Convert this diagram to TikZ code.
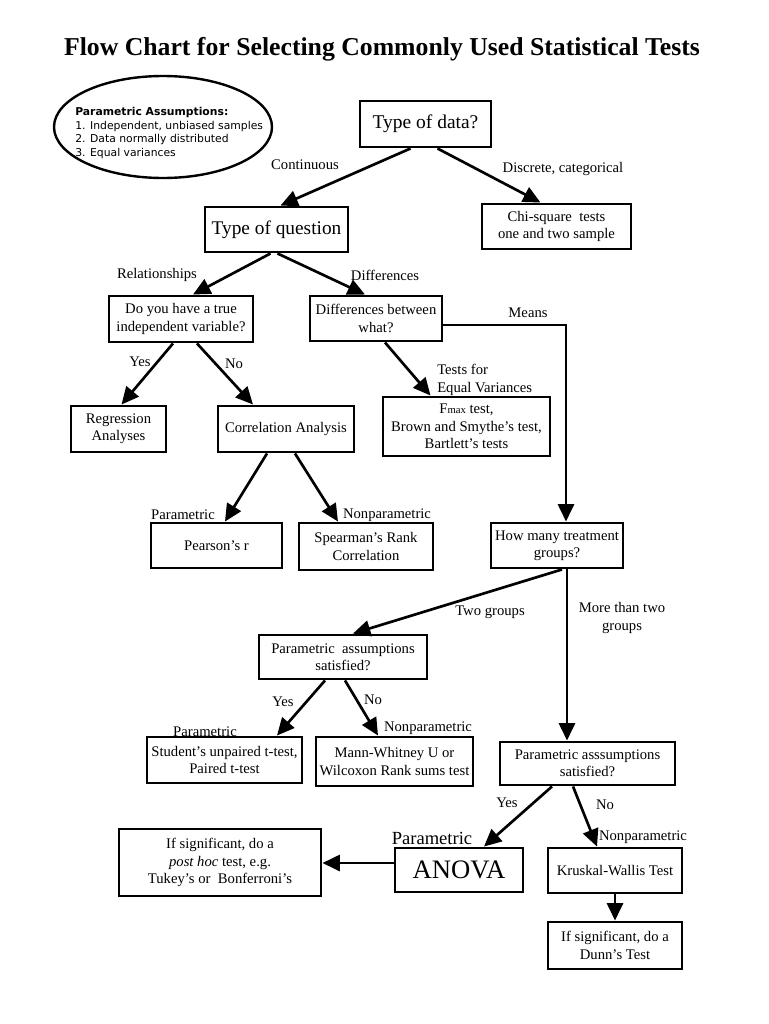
\documentclass[tikz,border=0pt]{standalone}
\usepackage{fontspec}
\setmainfont{Liberation Serif}
\newfontfamily\assumfont{DejaVu Sans}
\usetikzlibrary{arrows.meta, calc, shapes.geometric}

\tikzset{
  flow box/.style={draw, line width=2.2pt, align=center, inner sep=2pt, font=\fontsize{11}{13}\selectfont},
  box wh/.style 2 args={minimum width={#1*0.75pt}, minimum height={#2*0.75pt}},
  branch label/.style={font=\fontsize{11}{13}\selectfont, align=center, inner sep=0pt},
  flow arrow/.style={line width=2pt, -{Triangle[length=13pt, width=12pt]}}
}

\begin{document}
\begin{tikzpicture}[x=0.75pt, y=-0.75pt]
  \useasboundingbox (0,0) rectangle (768,1024);

  \node[font=\fontsize{19.3}{22}\selectfont\bfseries] (title) at (382,49) {Flow Chart for Selecting Commonly Used Statistical Tests};

  % Assumptions ellipse
  \node[draw, ellipse, line width=1.8pt, minimum width=163.5pt, minimum height=76.5pt] (assum) at (163,127) {};
  \node[anchor=west, align=left, inner sep=0pt, font=\assumfont\fontsize{8.1}{10.1}\selectfont] (assumtext) at (75,133)
    {\textbf{Parametric Assumptions:}\\1. Independent, unbiased samples\\2. Data normally distributed\\3. Equal variances};

  % Boxes - top part
  \node[flow box, box wh={131}{46}, font=\fontsize{14.6}{17}\selectfont] (typedata) at (425.5,124) {Type of data?};
  \node[flow box, box wh={149}{45}] (chisq) at (556.5,226.5) {Chi-square~ tests\\one and two sample};
  \node[flow box, box wh={143}{45}, font=\fontsize{14.5}{17}\selectfont] (typeq) at (276.5,229.5) {Type of question};
  \node[flow box, box wh={144}{46}] (trueiv) at (181,319) {Do you have a true\\independent variable?};
  \node[flow box, box wh={132}{45}] (diffwhat) at (376,318.5) {Differences between\\what?};
  \node[flow box, box wh={95}{46}] (regress) at (118.5,429) {Regression\\Analyses};
  \node[flow box, box wh={136}{46}] (corr) at (286,429) {Correlation Analysis};
  \node[flow box, box wh={167}{59}] (fmax) at (466.5,426.5) {F{\fontsize{8}{8}\selectfont max} test,\\Brown and Smythe’s test,\\Bartlett’s tests};
  \node[flow box, box wh={131}{45}] (pearson) at (216.5,545.5) {Pearson’s r};
  \node[flow box, box wh={134}{47}] (spearman) at (366,546.5) {Spearman’s Rank\\Correlation};
  \node[flow box, box wh={132}{45}] (howmany) at (557,545.5) {How many treatment\\groups?};

  % Boxes - bottom part
  \node[flow box, box wh={168}{44}] (paramA) at (343,657) {Parametric~ assumptions\\satisfied?};
  \node[flow box, box wh={155}{46}] (student) at (224.5,760) {Student’s unpaired t-test,\\Paired t-test};
  \node[flow box, box wh={157}{49}] (mann) at (394.5,761.5) {Mann-Whitney U or\\Wilcoxon Rank sums test};
  \node[flow box, box wh={175}{43}] (paramB) at (587.5,763.5) {Parametric asssumptions\\satisfied?};
  \node[flow box, box wh={128}{44}, font=\fontsize{20}{22}\selectfont] (anova) at (459,870) {ANOVA};
  \node[flow box, box wh={134}{45}] (kruskal) at (615,870.5) {Kruskal-Wallis Test};
  \node[flow box, box wh={202}{67}] (posthoc) at (220,862.5) {If significant, do a\\\textit{post hoc} test, e.g.\\Tukey’s or~ Bonferroni’s};
  \node[flow box, box wh={134}{47}] (dunn) at (615,945.5) {If significant, do a\\Dunn’s Test};

  % Branch labels
  \node[branch label] (lcont) at (305,165) {Continuous};
  \node[branch label] (ldisc) at (563,169) {Discrete, categorical};
  \node[branch label] (lrel) at (157,275) {Relationships};
  \node[branch label] (ldiff) at (385,275) {Differences};
  \node[branch label] (lmeans) at (528,313) {Means};
  \node[branch label] (lyes1) at (140,362) {Yes};
  \node[branch label] (lno1) at (234,364) {No};
  \node[branch label, anchor=west, align=left] (lvar) at (437,380) {Tests for\\Equal Variances};
  \node[branch label] (lpar1) at (183,515) {Parametric};
  \node[branch label] (lnonpar1) at (387,515) {Nonparametric};
  \node[branch label] (ltwo) at (490,612) {Two groups};
  \node[branch label] (lmore) at (622,618) {More than two\\groups};
  \node[branch label] (lyes2) at (283,702) {Yes};
  \node[branch label] (lno2) at (373,700) {No};
  \node[branch label] (lpar2) at (205,732) {Parametric};
  \node[branch label] (lnonpar2) at (428,728) {Nonparametric};
  \node[branch label] (lyes3) at (507,803) {Yes};
  \node[branch label] (lno3) at (605,805) {No};
  \node[branch label, font=\fontsize{13.9}{16}\selectfont] (lpar3) at (432,838) {Parametric};
  \node[branch label] (lnonpar3) at (643,837) {Nonparametric};

  % Arrows
  \draw[flow arrow] ($(typedata.south)+(-15,0)$) -- ($(typeq.north)+(4,0)$);
  \draw[flow arrow] ($(typedata.south)+(12,0)$) -- ($(chisq.north)+(-16,0)$);
  \draw[flow arrow] ($(typeq.south)+(-6,0)$) -- ($(trueiv.north)+(12,0)$);
  \draw[flow arrow] ($(typeq.south)+(1,0)$) -- ($(diffwhat.north)+(-11,0)$);
  \draw[flow arrow] ($(trueiv.south)+(-8,0)$) -- ($(regress.north)+(3,0)$);
  \draw[flow arrow] ($(trueiv.south)+(16,0)$) -- ($(corr.north)+(-33,0)$);
  \draw[flow arrow] ($(diffwhat.south)+(9,0)$) -- ($(fmax.north)+(-36,0)$);
  \draw[flow arrow] ($(diffwhat.east)+(0,6.5)$) -| ($(howmany.north)+(9,0)$);
  \draw[flow arrow] ($(corr.south)+(-19,0)$) -- ($(pearson.north)+(8.5,0)$);
  \draw[flow arrow] ($(corr.south)+(9,0)$) -- ($(spearman.north)+(-28,0)$);
  \draw[flow arrow] ($(howmany.south)+(5,0)$) -- ($(paramA.north)+(10,0)$);
  \draw[flow arrow] ($(howmany.south)+(10,0)$) -- ($(paramB.north)+(-20.5,0)$);
  \draw[flow arrow] ($(paramA.south)+(-18,0)$) -- ($(student.north)+(52.5,0)$);
  \draw[flow arrow] ($(paramA.south)+(2,0)$) -- ($(mann.north)+(-16.5,0)$);
  \draw[flow arrow] ($(paramB.south)+(-35.5,0)$) -- ($(anova.north)+(25,0)$);
  \draw[flow arrow] ($(paramB.south)+(-14.5,0)$) -- ($(kruskal.north)+(-18,0)$);
  \draw[flow arrow] ($(anova.west)+(0,-7)$) -- ($(posthoc.east)+(0,0.5)$);
  \draw[flow arrow] (kruskal.south) -- (dunn.north);
\end{tikzpicture}
\end{document}
